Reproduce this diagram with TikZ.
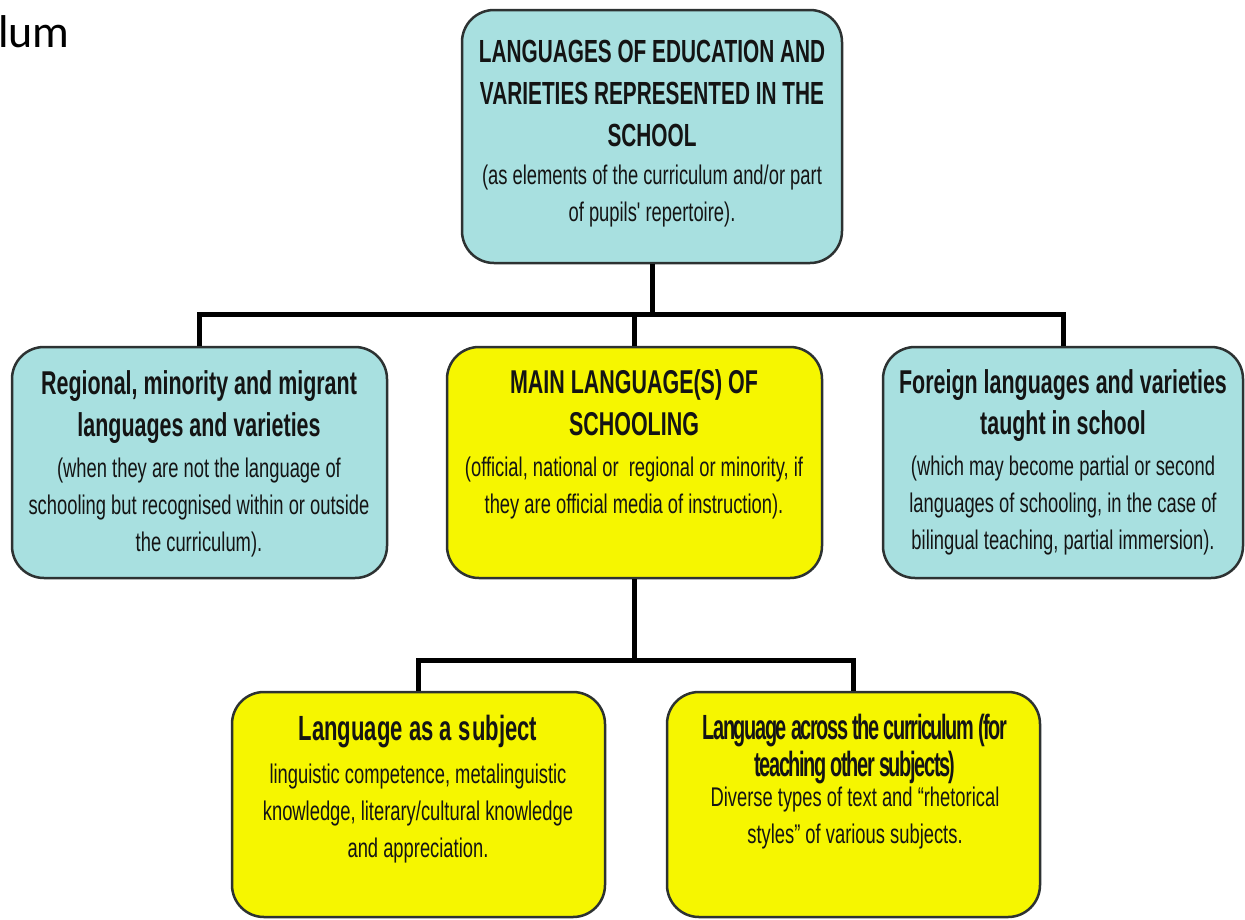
\documentclass[tikz,border=0pt]{standalone}
\usepackage{fontspec}
\setmainfont{Liberation Sans}
\newfontfamily\fN[FakeStretch=0.68]{Liberation Sans}
\newfontfamily\fB[FakeStretch=0.65]{Liberation Sans}
\newfontfamily\fC[FakeStretch=0.63]{Liberation Sans}
\newfontfamily\fD[FakeStretch=0.57,LetterSpace=-4]{Liberation Sans}
\newfontfamily\carfont{Carlito}
\definecolor{cyanbox}{RGB}{168,224,224}
\definecolor{yelbox}{RGB}{246,246,0}
\definecolor{edge}{RGB}{45,50,50}
\definecolor{txt}{RGB}{20,20,20}
\newcommand{\basefont}{\fN\fontsize{27}{37}\selectfont\lineskiplimit-100pt\relax}
\tikzset{
  box/.style={draw=edge, line width=2.5pt, rounded corners=32pt, inner sep=0pt},
  cbox/.style={box, fill=cyanbox},
  ybox/.style={box, fill=yelbox},
  ttl/.style={align=center, text=txt, inner sep=0pt, anchor=north, font=\basefont},
  conn/.style={line width=5pt, draw=black, line join=miter}
}
\newcommand{\tb}{\fB\fontsize{32}{37}\selectfont\bfseries}
\newcommand{\mb}{\fB\fontsize{33}{37}\selectfont\bfseries}
\newcommand{\nt}{\fN\fontsize{27}{37}\selectfont\mdseries}
\newcommand{\st}{\rule{0pt}{30pt}}
\begin{document}
\begin{tikzpicture}[x=1pt,y=-1pt]
\useasboundingbox (0,0) rectangle (1245,919);
\node[anchor=base west, inner sep=0pt, font=\carfont\fontsize{46}{50}\selectfont] (lum) at (-2,47) {lum};

\node[cbox, minimum width=380pt, minimum height=253pt] (top) at (652,136.5) {};
\node[cbox, minimum width=375pt, minimum height=231pt] (left) at (199.5,462.5) {};
\node[ybox, minimum width=375pt, minimum height=231pt] (mid) at (634.5,462.5) {};
\node[cbox, minimum width=360pt, minimum height=231pt] (right) at (1063,462.5) {};
\node[ybox, minimum width=373pt, minimum height=225pt] (bl) at (418.5,804.5) {};
\node[ybox, minimum width=373pt, minimum height=225pt] (br) at (853.5,804.5) {};

\node[ttl] (topT) at (652,32) {\st\tb LANGUAGES OF EDUCATION AND\\[5pt] \tb VARIETIES REPRESENTED IN THE\\[5pt] \tb SCHOOL\\[1pt] \nt (as elements of the curriculum and/or part\\ \nt of pupils' repertoire).};
\node[ttl] (leftT) at (199,364) {\st\mb Regional, minority and migrant\\[5pt] \mb languages and varieties\\[4pt] \nt (when they are not the language of\\ \nt schooling but recognised within or outside\\ \nt the curriculum).};
\node[ttl] (midT) at (634,363) {\st\mb MAIN LANGUAGE(S) OF\\[5pt] \mb SCHOOLING\\[4pt] \nt (official, national or\ \ regional or minority, if\\ \nt they are official media of instruction).};
\node[ttl] (rightT) at (1063,363) {\st\mb Foreign languages and varieties\\[4pt] \mb taught in school\\[4pt] \nt (which may become partial or second\\ \nt languages of schooling, in the case of\\ \nt bilingual teaching, partial immersion).};
\node[ttl] (blT) at (418,710) {\st{\fC\fontsize{35}{37}\selectfont\bfseries Language as a s\kern2pt ubject}\\[6pt] \nt linguistic competence, metalinguistic\\ \nt knowledge, literary/cultural knowledge\\ \nt and appreciation.};
\node[ttl] (brT) at (855,709) {\st{\fD\fontsize{35}{37}\selectfont\bfseries Language across the curriculum (for}\\ {\fD\fontsize{35}{37}\selectfont\bfseries teaching other subjects)}\\[-7pt] \nt Diverse types of text and \char"201C rhetorical\\ \nt styles\char"201D{} of various subjects.};

\coordinate (j1) at (653,314);
\coordinate (j2) at (634,660);
\draw[conn] (top.south) -- (top.south |- j1);
\draw[conn] (left.north) |- (right.north |- j1) -- (right.north);
\draw[conn] (mid.north) -- (mid.north |- j1);
\draw[conn] (mid.south) -- (mid.south |- j2);
\draw[conn] (bl.north) |- (br.north |- j2) -- (br.north);
\end{tikzpicture}
\end{document}
